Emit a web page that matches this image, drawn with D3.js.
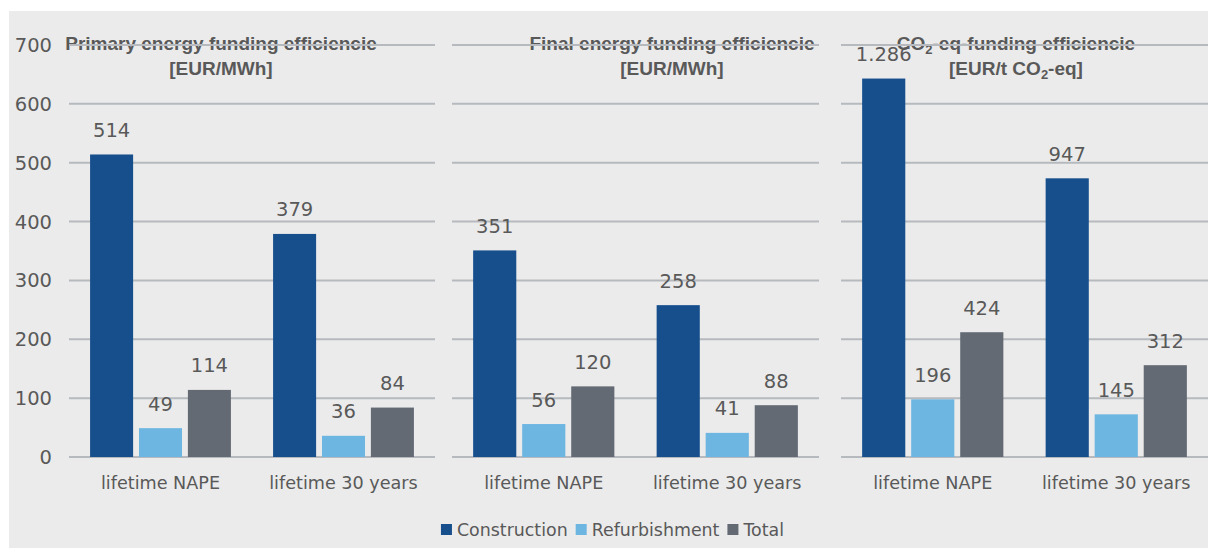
<!DOCTYPE html>
<html>
<head>
<meta charset="utf-8">
<script src="https://cdn.jsdelivr.net/npm/d3@7"></script>
<style>
  html, body { margin: 0; padding: 0; background: #ffffff; }
  svg { display: block; }
</style>
</head>
<body>
<svg id="chart" width="1208" height="548"></svg>
<script>
// ---- Data ----
const categories = ["lifetime NAPE", "lifetime 30 years"];
const seriesNames = ["Construction", "Refurbishment", "Total"];
const seriesColors = ["#174f8d", "#6db6e1", "#636a74"];
// values per category: [Construction, Refurbishment, Total]
const primaryEnergy = [[514, 49, 114], [379, 36, 84]];
const finalEnergy   = [[351, 56, 120], [258, 41, 88]];
const co2Eq         = [[1286, 196, 424], [947, 145, 312]];
const yTicks = [0, 100, 200, 300, 400, 500, 600, 700];

const panels = [
  { title1: [["Primary energy funding efficiencie"]], title2: [["[EUR/MWh]"]], values: primaryEnergy, max: 700, range: [69, 435], titleX: 221 },
  { title1: [["Final energy funding efficiencie"]], title2: [["[EUR/MWh]"]], values: finalEnergy, max: 700, range: [452, 819], titleX: 672 },
  { title1: [["CO"], ["2", "sub"], ["-eq-funding efficiencie"]], title2: [["[EUR/t CO"], ["2", "sub"], ["-eq]"]], values: co2Eq, max: 1400, range: [841, 1208], titleX: 1016 }
];

const locale = d3.formatLocale({ decimal: ",", thousands: ".", grouping: [3], currency: ["", "€"] });
const fmt = locale.format(",d");

const svg = d3.select("#chart");
const textColor = "#595959";
const fontBody = "'DejaVu Sans', sans-serif";
const fontTitle = "'Liberation Sans', Arial, sans-serif";

svg.append("rect").attr("x", 9).attr("y", 11).attr("width", 1199).attr("height", 537).attr("fill", "#ebebeb");

const yTop = 45, yBottom = 457;

// Y axis labels (left)
const yLeft = d3.scaleLinear().domain([0, 700]).range([yBottom, yTop]);
svg.append("g").selectAll("text").data(yTicks).join("text")
  .attr("x", 52).attr("y", d => yLeft(d)).attr("dy", "0.36em")
  .attr("text-anchor", "end")
  .attr("font-family", fontBody).attr("font-size", 19.5).attr("fill", textColor)
  .text(d => d);

panels.forEach(p => {
  const y = d3.scaleLinear().domain([0, p.max]).range([yBottom, yTop]);
  const gridTicks = yTicks.map(t => t * p.max / 700);
  const g = svg.append("g");

  // title
  [p.title1, p.title2].forEach((parts, li) => {
    const t = g.append("text")
      .attr("x", p.titleX).attr("y", li === 0 ? 50 : 75)
      .attr("text-anchor", "middle")
      .attr("font-family", fontTitle).attr("font-weight", "bold")
      .attr("font-size", 19).attr("fill", textColor);
    let prevSub = false;
    parts.forEach(([s, kind]) => {
      const ts = t.append("tspan").text(s);
      if (kind === "sub") { ts.attr("dy", 4).attr("font-size", 13); prevSub = true; }
      else if (prevSub) { ts.attr("dy", -4); prevSub = false; }
    });
  });

  // gridlines
  g.append("g").selectAll("line").data(gridTicks).join("line")
    .attr("x1", p.range[0]).attr("x2", p.range[1])
    .attr("y1", d => y(d)).attr("y2", d => y(d))
    .attr("stroke", "#b6babe").attr("stroke-width", 2);

  const x0 = d3.scaleBand().domain(categories).range(p.range).padding(0);
  const x1 = d3.scaleBand().domain(seriesNames).range([0, x0.bandwidth()])
    .paddingInner(0.12).paddingOuter(0.431);

  categories.forEach((c, ci) => {
    const cg = g.append("g").attr("transform", `translate(${x0(c)},0)`);
    seriesNames.forEach((s, si) => {
      const v = p.values[ci][si];
      cg.append("rect")
        .attr("x", x1(s)).attr("width", x1.bandwidth())
        .attr("y", y(v)).attr("height", yBottom - y(v))
        .attr("fill", seriesColors[si]);
      cg.append("text")
        .attr("x", x1(s) + x1.bandwidth() / 2).attr("y", y(v) - 17.5)
        .attr("text-anchor", "middle")
        .attr("font-family", fontBody).attr("font-size", 19.5).attr("fill", textColor)
        .text(fmt(v));
    });
    g.append("text")
      .attr("x", x0(c) + x0.bandwidth() / 2).attr("y", 489)
      .attr("text-anchor", "middle")
      .attr("font-family", fontBody).attr("font-size", 17.6).attr("fill", textColor)
      .text(c);
  });
});

// Legend
const legend = svg.append("g");
let lx = 0;
const items = [];
seriesNames.forEach((s, i) => {
  const ig = legend.append("g");
  ig.append("rect").attr("x", lx).attr("y", 524).attr("width", 11).attr("height", 11).attr("fill", seriesColors[i]);
  const t = ig.append("text").attr("x", lx + 16).attr("y", 536)
    .attr("font-family", fontBody).attr("font-size", 17.4).attr("fill", textColor).text(s);
  const w = t.node().getComputedTextLength();
  lx += 16 + w + 8;
});
const totalW = lx - 8;
legend.attr("transform", `translate(${612.5 - totalW / 2},0)`);
</script>
</body>
</html>
